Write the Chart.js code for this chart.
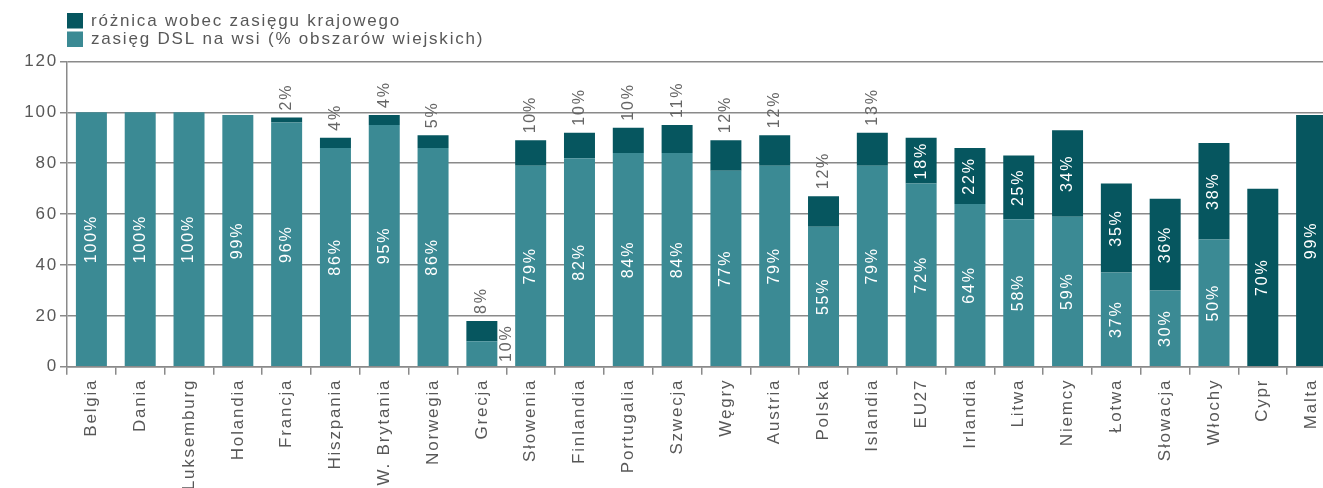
<!DOCTYPE html>
<html>
<head>
<meta charset="utf-8">
<script src="https://cdn.jsdelivr.net/npm/chart.js@4"></script>
<style>
  html, body { margin: 0; padding: 0; background: #fff; overflow: hidden; }
  #wrap { width: 1323px; height: 488px; overflow: hidden; }
  canvas { display: block; }
</style>
</head>
<body>
<div id="wrap"><canvas id="chart" width="1336" height="488"></canvas></div>
<script>
const countries = ["Belgia", "Dania", "Luksemburg", "Holandia", "Francja", "Hiszpania", "W. Brytania",
  "Norwegia", "Grecja", "Słowenia", "Finlandia", "Portugalia", "Szwecja", "Węgry", "Austria",
  "Polska", "Islandia", "EU27", "Irlandia", "Litwa", "Niemcy", "Łotwa", "Słowacja", "Włochy",
  "Cypr", "Malta"]
// DSL coverage in rural areas (%)
const ruralCoverage = [100, 100, 100, 99, 96, 86, 95, 86, 10, 79, 82, 84, 84, 77, 79, 55, 79, 72,
  64, 58, 59, 37, 30, 50, 0, 0]
// gap to national coverage (percentage points)
const gapToNational = [0, 0, 0, 0, 2, 4, 4, 5, 8, 10, 10, 10, 11, 12, 12, 12, 13, 18, 22, 25, 34,
  35, 36, 38, 70, 99]
const yTicks = [0, 20, 40, 60, 80, 100, 120]

const seriesNames = ["zasięg DSL na wsi (% obszarów wiejskich)", "różnica wobec zasięgu krajowego"]
const light = "#3b8a94"
const dark = "#06565f"
const grey = "#8a8a8a"
const textGrey = "#585858"
const FONT = '"Liberation Sans", Arial, sans-serif'

// wide tracking for every text drawn on the canvas
const spacing = {
  id: "spacing",
  beforeUpdate(chart) { chart.ctx.letterSpacing = "1.8px" },
  beforeDraw(chart) { chart.ctx.letterSpacing = "1.8px" }
}

function rotatedText(ctx, text, x, y, align, color) {
  ctx.save()
  ctx.translate(x, y)
  ctx.rotate(-Math.PI / 2)
  ctx.textAlign = align
  ctx.textBaseline = "middle"
  ctx.fillStyle = color
  ctx.fillText(text, 0, 0)
  ctx.restore()
}

// value labels: inside the segment when it is tall enough, otherwise outside
const barLabels = {
  id: "barLabels",
  afterDatasetsDraw(chart) {
    const ctx = chart.ctx
    const lower = chart.getDatasetMeta(0).data
    const upper = chart.getDatasetMeta(1).data
    ctx.save()
    ctx.font = "16px " + FONT
    lower.forEach((bar, i) => {
      const v = ruralCoverage[i]
      if (!v) return
      if (bar.base - bar.y > 40) rotatedText(ctx, v + "%", bar.x, (bar.y + bar.base) / 2, "center", "#fff")
      else rotatedText(ctx, v + "%", bar.x + bar.width / 2 + 9, bar.base - 4, "left", "#666")
    })
    upper.forEach((bar, i) => {
      const v = gapToNational[i]
      if (!v) return
      if (bar.base - bar.y > 40) rotatedText(ctx, v + "%", bar.x, (bar.y + bar.base) / 2, "center", "#fff")
      else rotatedText(ctx, v + "%", bar.x, bar.y - 7, "left", "#666")
    })
    ctx.restore()
  }
}

// two-row legend in the top left corner, dark series first
const legendRows = {
  id: "legendRows",
  afterDraw(chart) {
    const ctx = chart.ctx
    const rows = [[dark, seriesNames[1]], [light, seriesNames[0]]]
    ctx.save()
    ctx.font = "17px " + FONT
    ctx.textBaseline = "middle"
    ctx.textAlign = "left"
    rows.forEach((r, i) => {
      const y = 13 + i * 18.5
      ctx.fillStyle = r[0]
      ctx.fillRect(67, y, 16, 15.5)
      ctx.fillStyle = textGrey
      ctx.fillText(r[1], 91, y + 8)
    })
    ctx.restore()
  }
}

new Chart("chart", {
  type: "bar",
  data: {
    labels: countries,
    datasets: [
      { label: seriesNames[0], data: ruralCoverage, backgroundColor: light },
      { label: seriesNames[1], data: gapToNational, backgroundColor: dark }
    ]
  },
  options: {
    responsive: false,
    animation: false,
    barPercentage: 0.635,
    categoryPercentage: 1,
    layout: { padding: { top: 61.5, left: 0, right: 0, bottom: 0 } },
    plugins: { legend: { display: false }, tooltip: { enabled: false } },
    scales: {
      x: {
        stacked: true,
        afterFit(scale) { scale.height = 121.3 },
        grid: { drawOnChartArea: false, drawTicks: true, tickLength: 8, color: grey, lineWidth: 1.5 },
        border: { color: grey, width: 1.5 },
        ticks: { minRotation: 90, maxRotation: 90, autoSkip: false, padding: 4, color: textGrey, font: { family: FONT, size: 17 } }
      },
      y: {
        stacked: true,
        min: 0,
        max: 120,
        afterFit(scale) { scale.width = 67 },
        afterBuildTicks(scale) { scale.ticks = yTicks.map(v => ({ value: v })) },
        grid: { color: grey, lineWidth: 1.5, tickLength: 7 },
        border: { color: grey, width: 1.5 },
        ticks: { padding: 2, color: textGrey, font: { family: FONT, size: 17 } }
      }
    }
  },
  plugins: [spacing, barLabels, legendRows]
})
</script>
</body>
</html>
